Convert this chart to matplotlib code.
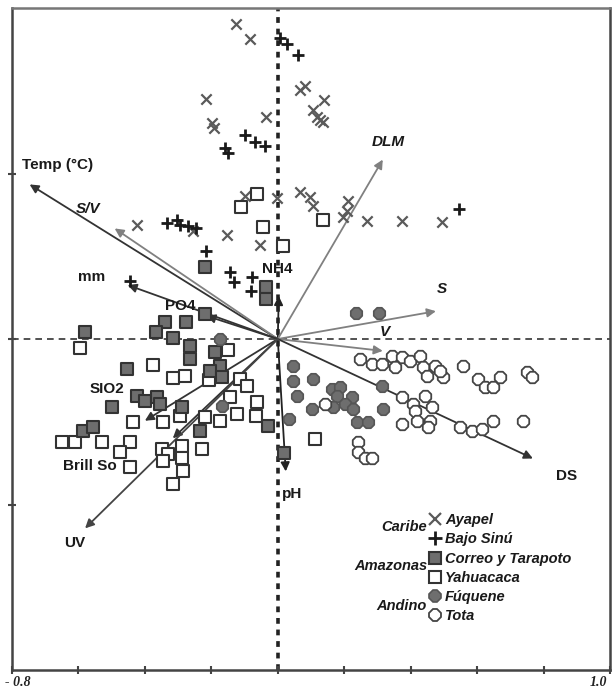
import matplotlib
matplotlib.use("Agg")
import matplotlib.pyplot as plt
from matplotlib.lines import Line2D

plt.rcParams['font.family'] = ['Liberation Sans', 'DejaVu Sans']

# ---- site scores (RDA axis 1, axis 2) ----
ayapel_x = [-0.127, -0.084, -0.217, -0.199, -0.193, -0.036, 0.066, 0.081, 0.139, 0.105, 0.117, 0.127, 0.136,
            -0.099, -0.003, 0.066, 0.096, 0.105, 0.211, 0.208, 0.196, 0.268, 0.373, 0.494, -0.425, -0.154,
            -0.054, -0.256]
ayapel_y = [0.952, 0.907, 0.726, 0.654, 0.636, 0.672, 0.753, 0.765, 0.723, 0.693, 0.672, 0.663, 0.657,
            0.431, 0.425, 0.443, 0.428, 0.401, 0.416, 0.386, 0.370, 0.355, 0.355, 0.352, 0.343, 0.313,
            0.283, 0.325]

sinu_x = [0.006, 0.027, 0.060, -0.160, -0.151, -0.099, -0.069, -0.039, -0.334, -0.304, -0.295, -0.271,
          -0.247, 0.545, -0.217, -0.145, -0.133, -0.078, -0.081, -0.446]
sinu_y = [0.910, 0.892, 0.858, 0.578, 0.563, 0.617, 0.596, 0.584, 0.349, 0.361, 0.343, 0.340,
          0.334, 0.392, 0.265, 0.202, 0.172, 0.187, 0.145, 0.175]

correo_x = [-0.220, -0.036, -0.036, -0.220, -0.340, -0.277, -0.367, -0.316, -0.581, -0.265, -0.265,
            -0.190, -0.175, -0.205, -0.169, -0.455, -0.500, -0.425, -0.401, -0.364, -0.355, -0.289,
            -0.587, -0.557, -0.235, -0.030, 0.018]
correo_y = [0.217, 0.157, 0.120, 0.075, 0.051, 0.051, 0.021, 0.003, 0.021, -0.021, -0.060,
            -0.039, -0.081, -0.096, -0.114, -0.090, -0.205, -0.172, -0.187, -0.175, -0.196, -0.205,
            -0.277, -0.265, -0.277, -0.262, -0.343]

yahua_x = [-0.063, -0.111, -0.045, 0.015, 0.136, -0.596, -0.377, -0.316, -0.280, -0.208, -0.151,
           -0.114, -0.093, -0.145, -0.063, -0.123, -0.066, -0.220, -0.175, -0.295, -0.346, -0.437,
           -0.446, -0.476, -0.648, -0.611, -0.530, -0.446, -0.349, -0.331, -0.289, -0.229, -0.289,
           -0.346, -0.286, -0.316, 0.111]
yahua_y = [0.437, 0.398, 0.337, 0.280, 0.361, -0.027, -0.078, -0.117, -0.111, -0.123, -0.033,
           -0.120, -0.142, -0.175, -0.190, -0.226, -0.232, -0.235, -0.247, -0.232, -0.250, -0.250,
           -0.310, -0.340, -0.310, -0.310, -0.310, -0.386, -0.331, -0.346, -0.322, -0.331, -0.361,
           -0.370, -0.398, -0.437, -0.301]

fuq_x = [0.235, 0.304, -0.175, -0.169, 0.045, 0.045, 0.057, 0.105, 0.102, 0.033, 0.163, 0.187, 0.178,
         0.223, 0.202, 0.166, 0.226, 0.313, 0.316, 0.238, 0.271]
fuq_y = [0.078, 0.078, 0.000, -0.202, -0.081, -0.127, -0.172, -0.120, -0.211, -0.241, -0.151, -0.145,
         -0.172, -0.175, -0.196, -0.205, -0.211, -0.142, -0.211, -0.250, -0.250]

tota_x = [0.247, 0.283, 0.313, 0.343, 0.352, 0.373, 0.398, 0.428, 0.437, 0.473, 0.449, 0.497, 0.488,
          0.557, 0.602, 0.623, 0.648, 0.669, 0.750, 0.765, 0.373, 0.407, 0.443, 0.464, 0.413, 0.373,
          0.419, 0.458, 0.452, 0.548, 0.584, 0.614, 0.648, 0.738, 0.241, 0.241, 0.262, 0.283, 0.142]
tota_y = [-0.060, -0.075, -0.075, -0.051, -0.084, -0.054, -0.066, -0.051, -0.084, -0.081, -0.111,
          -0.114, -0.096, -0.081, -0.120, -0.145, -0.145, -0.114, -0.099, -0.114, -0.175, -0.196,
          -0.172, -0.205, -0.217, -0.256, -0.247, -0.247, -0.265, -0.265, -0.277, -0.271, -0.247,
          -0.247, -0.310, -0.340, -0.361, -0.361, -0.196]

# ---- environmental vectors ----
env_names = ['Temp (°C)', 'S/V', 'mm', 'PO4', 'NH4', 'pH', 'S', 'V', 'DS', 'DLM', 'SIO2', 'Brill So', 'UV']
env_x = [-0.747, -0.491, -0.452, -0.215, 0.003, 0.024, 0.476, 0.316, 0.768, 0.316, -0.400, -0.316, -0.580]
env_y = [0.467, 0.334, 0.163, 0.070, 0.130, -0.400, 0.084, -0.036, -0.361, 0.542, -0.247, -0.300, -0.572]
lab_x = [-0.771, -0.572, -0.560, -0.295, -0.003, 0.042, 0.494, 0.322, 0.870, 0.334, -0.515, -0.566, -0.611]
lab_y = [0.527, 0.392, 0.187, 0.099, 0.211, -0.467, 0.151, 0.021, -0.413, 0.596, -0.151, -0.383, -0.617]
env_italic = [False, True, False, False, False, False, True, True, False, True, False, False, False]
env_color = ['#333333', '#808080', '#333333', '#333333', '#222222', '#222222', '#808080', '#808080',
             '#333333', '#808080', '#333333', '#333333', '#444444']
lab_ha = ['left', 'center', 'center', 'center', 'center', 'center', 'center', 'center', 'center',
          'center', 'center', 'center', 'center']

fig = plt.figure(figsize=(6.12, 6.94), dpi=100)
ax = fig.add_axes([12/612, 24/694, 598/612, 662/694])
ax.set_xlim(-0.8, 1.0)
ax.set_ylim(-1.0, 1.0)

ax.axvline(0, color='#222222', lw=2.6, ls=(0, (1.6, 1.6)), zorder=1)
ax.axhline(0, color='#333333', lw=1.2, ls=(0, (4, 3)), zorder=1)

for n, x, y, lx, ly, it, c, ha in zip(env_names, env_x, env_y, lab_x, lab_y, env_italic, env_color, lab_ha):
    ax.annotate('', xy=(x, y), xytext=(0, 0),
                arrowprops=dict(arrowstyle='-|>', color=c, lw=1.3, mutation_scale=13, shrinkA=0, shrinkB=0),
                zorder=3)
    ax.text(lx, ly, n, fontsize=11, fontweight='bold', style='italic' if it else 'normal',
            color='#1a1a1a', ha=ha, va='center', zorder=5)

ms_kw = dict(zorder=4)
ax.scatter(ayapel_x, ayapel_y, marker='x', s=55, c='#5a5a5a', linewidths=1.6, **ms_kw)
ax.scatter(sinu_x, sinu_y, marker='+', s=75, c='#1a1a1a', linewidths=2.0, **ms_kw)
ax.scatter(yahua_x, yahua_y, marker='s', s=75, facecolors='white', edgecolors='#333333', linewidths=1.5, **ms_kw)
ax.scatter(correo_x, correo_y, marker='s', s=75, facecolors='#6e6e6e', edgecolors='#333333', linewidths=1.5, **ms_kw)
ax.scatter(fuq_x, fuq_y, marker='8', s=80, facecolors='#6e6e6e', edgecolors='#555555', linewidths=1.2, **ms_kw)
ax.scatter(tota_x, tota_y, marker='8', s=80, facecolors='white', edgecolors='#444444', linewidths=1.3, **ms_kw)

# legend
handles = [
    Line2D([], [], ls='none', marker='x', ms=8, mew=1.6, color='#5a5a5a'),
    Line2D([], [], ls='none', marker='+', ms=10, mew=2.0, color='#1a1a1a'),
    Line2D([], [], ls='none', marker='s', ms=9, mew=1.5, mfc='#6e6e6e', mec='#333333'),
    Line2D([], [], ls='none', marker='s', ms=9, mew=1.5, mfc='white', mec='#333333'),
    Line2D([], [], ls='none', marker='8', ms=9, mew=1.2, mfc='#6e6e6e', mec='#555555'),
    Line2D([], [], ls='none', marker='8', ms=9, mew=1.3, mfc='white', mec='#444444'),
]
legend_labels = ['Ayapel', 'Bajo Sinú', 'Correo y Tarapoto', 'Yahuacaca', 'Fúquene', 'Tota']
leg = ax.legend(handles, legend_labels, loc='upper left', bbox_to_anchor=(0.697, 0.237), frameon=False,
                prop=dict(size=10.5, weight='bold', style='italic'), handlelength=0.8, handletextpad=0.3,
                labelspacing=0.36, borderpad=0, borderaxespad=0)
for t in leg.get_texts():
    t.set_color('#1a1a1a')

group_names = ['Caribe', 'Amazonas', 'Andino']
group_y = [0.216, 0.157, 0.097]
for g, gy in zip(group_names, group_y):
    ax.text(0.694, gy, g, transform=ax.transAxes, fontsize=10.5, fontweight='bold', style='italic',
            color='#1a1a1a', ha='right', va='center')

# spines & ticks
for s in ax.spines.values():
    s.set_color('#444444')
    s.set_linewidth(1.8)
ax.spines['top'].set_color('#777777')
ax.set_xticks([-0.8, -0.6, -0.4, -0.2, 0.0, 0.2, 0.4, 0.6, 0.8, 1.0])
ax.set_yticks([-0.5, 0.0, 0.5])
ax.tick_params(direction='inout', length=6, width=1.5, color='#444444', labelbottom=False, labelleft=False)

fig.text(5/612, 1 - 683/694, '- 0.8', fontsize=10, fontweight='bold', style='italic',
         family=['Liberation Serif', 'DejaVu Serif'], ha='left', va='center', color='#222222')
fig.text(590/612, 1 - 683/694, '1.0', fontsize=10, fontweight='bold', style='italic',
         family=['Liberation Serif', 'DejaVu Serif'], ha='left', va='center', color='#222222')

fig.savefig('out.png', dpi=100)
